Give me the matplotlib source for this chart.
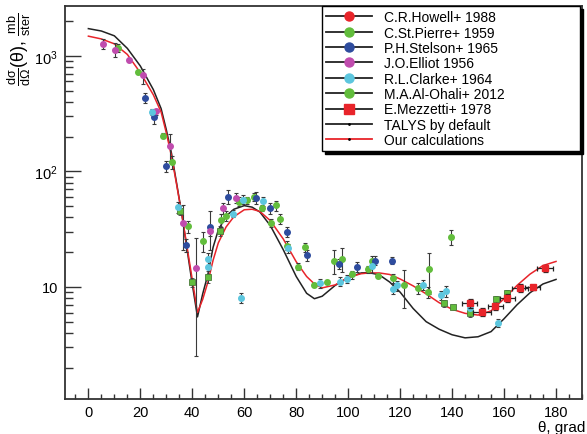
import matplotlib
matplotlib.use("Agg")
import matplotlib.pyplot as plt
from matplotlib.lines import Line2D
from matplotlib.ticker import FixedLocator, FixedFormatter, MultipleLocator, LogLocator, NullFormatter

plt.rcParams['font.family'] = ['Liberation Sans', 'DejaVu Sans']
plt.rcParams['mathtext.fontset'] = 'custom'
plt.rcParams['mathtext.rm'] = 'Liberation Sans'
plt.rcParams['mathtext.it'] = 'Liberation Sans'
plt.rcParams['mathtext.bf'] = 'Liberation Sans:bold'

# ---------------- data ----------------
calc_theta = [0, 5, 10, 15, 20, 25, 28, 30, 32, 34, 36, 38, 40, 42, 44, 46, 48, 50, 53, 56,
              60, 63, 66, 70, 75, 80, 84, 87, 90, 95, 100, 105, 108, 112, 116, 120, 125, 130,
              135, 140, 145, 150, 155, 160, 165, 170, 175, 180]
talys = [1720, 1640, 1490, 1160, 816, 510, 349, 229, 143, 78, 42, 21, 10.5, 5.5, 8.7, 12.8, 22, 31,
         41, 47, 50.5, 49, 44.5, 34, 21, 12.3, 8.8, 7.9, 8.3, 10.3, 12.0, 13.2, 13.3, 12.7, 11.0,
         9.0, 6.5, 5.0, 4.3, 3.85, 3.62, 3.7, 4.1, 5.3, 7.0, 8.9, 10.6, 11.6]
ours = [1480, 1400, 1270, 1028, 714, 460, 326, 215, 135, 76, 42, 22, 11.5, 6.0, 7.8, 11, 17, 24,
        33, 40.5, 46.5, 47, 45, 37.5, 26, 16.5, 12.3, 10.6, 9.8, 10.4, 12.1, 13.0, 13.2, 13.2,
        12.8, 11.7, 10.2, 8.7, 7.3, 6.4, 5.9, 5.7, 6.2, 7.9, 10.3, 12.9, 15.3, 16.6]

howell_x = [146.7, 151.5, 156.7, 161.3, 166.2, 171.0, 175.8]
howell_y = [7.2, 6.1, 6.8, 8.0, 9.8, 9.9, 14.5]
howell_yerr = [0.6, 0.5, 0.5, 0.6, 0.7, 0.5, 1.0]
howell_xerr = [3, 3.3, 3, 3, 3, 3, 3]

stpierre_x = [11.3, 19, 28.7, 32.2, 38.2, 44, 51, 53.1, 57.8, 61, 63.6, 66.8, 70.4, 72.2, 73.6,
              76.4, 80.6, 83.2, 86.7, 91.8, 94.7, 97.6, 101.4, 107.6, 109.1, 111.3, 117.4, 121.3,
              126.7, 131.3, 130.9, 139.5]
stpierre_y = [1173, 731, 204, 120, 33.5, 24.9, 38, 41, 54.8, 56, 60.5, 48, 35.8, 50.7, 38.8,
              22.8, 15, 22.1, 10.4, 11.0, 16.9, 17.5, 12.8, 14.2, 16.6, 12.5, 11.9, 10.3,
              9.75, 14.2, 9.0, 26.9]
stpierre_err = [100, 30, 10, 15, 4, 5, 5, 4, 5, 4, 5, 3, 3, 5, 4, 2, 1, 2, 0.5, 0.5, 4, 4, 1, 1,
                2, 0.5, 1, 3.8, 1, 5.5, 1, 4]

stelson_x = [21.7, 25.1, 29.9, 37.4, 46.7, 53.6, 64.4, 70, 76.4, 84.1, 96.3, 103.3, 110.5, 116.8]
stelson_y = [433, 294, 111, 23, 33, 60.5, 59, 48, 30, 18.9, 15.8, 15, 16.9, 16.9]
stelson_err = [40, 35, 12, 3, 12, 8, 7, 5, 3, 2, 1.5, 1.5, 1.5, 1.2]

elliot_x = [5.5, 10.4, 15.5, 21, 25.9, 31.4, 36.4, 41.5, 46.7, 51.8, 56.9]
elliot_y = [1270, 1134, 923, 676, 330, 167, 36, 14.5, 30.4, 48, 59]
elliot_err = [130, 150, 30, 100, 20, 45, 15, 12, 3, 5, 6]

clarke_x = [24.5, 34.4, 46, 46, 55.6, 59.5, 58.8, 67.4, 77, 89, 96.9, 99.5, 109.1, 117.2, 118.7,
            128.7, 135.6, 137.7, 146.7, 157.6]
clarke_y = [325, 49, 17.5, 14.8, 43, 57, 8.0, 55, 21.6, 10.8, 11.1, 11.7, 15.2, 9.6, 10.3,
            10.4, 8.5, 9.2, 6.5, 4.9]
clarke_err = [20, 5, 2, 2, 3, 5, 0.8, 5, 2, 1, 1, 1, 2, 1, 1, 1, 0.8, 1, 0.5, 0.4]

alohali_x = [35.4, 39.9, 46, 50.8, 136.7, 140.5, 146.7, 156.9, 161]
alohali_y = [45.8, 11, 12.2, 30.7, 7.2, 6.7, 6.0, 7.8, 8.9]
alohali_err = [4, 1, 1.5, 3, 0.5, 0.3, 0.5, 0.5, 0.5]

labels = ['C.R.Howell+ 1988', 'C.St.Pierre+ 1959', 'P.H.Stelson+ 1965', 'J.O.Elliot 1956',
          'R.L.Clarke+ 1964', 'M.A.Al-Ohali+ 2012', 'E.Mezzetti+ 1978', 'TALYS by default',
          'Our calculations']

C_RED = '#e8242a'
C_GREEN = '#62bd3c'
C_BLUE = '#2e4c9e'
C_MAG = '#c04cae'
C_CYAN = '#5cc6de'
C_BLACK = '#222222'

# ---------------- figure ----------------
fig = plt.figure(figsize=(5.87, 4.35), dpi=100)
ax = fig.add_axes([65/587, 1-400/435, 517/587, 393/435])
ax.set_yscale('log')
ax.set_xlim(-9, 190)
ax.set_ylim(1.07, 2700)

ax.plot(calc_theta, talys, color=C_BLACK, lw=1.1, zorder=2)
ax.plot(calc_theta, ours, color=C_RED, lw=1.1, zorder=2)

eb = dict(ecolor='#3a3a3a', elinewidth=0.8, capsize=1.6, capthick=0.8, ls='none', zorder=3)
ms = 4.0
ax.errorbar(stpierre_x, stpierre_y, yerr=stpierre_err, marker='o', ms=ms, mfc=C_GREEN, mec=C_GREEN, **eb)
ax.errorbar(alohali_x, alohali_y, yerr=alohali_err, marker='s', ms=3.8, mfc=C_GREEN, mec='#4a7a3a', mew=0.6, **eb)
ax.errorbar(stelson_x, stelson_y, yerr=stelson_err, marker='o', ms=ms, mfc=C_BLUE, mec=C_BLUE, **eb)
ax.errorbar(elliot_x, elliot_y, yerr=elliot_err, marker='o', ms=ms, mfc=C_MAG, mec=C_MAG, **eb)
ax.errorbar(clarke_x, clarke_y, yerr=clarke_err, marker='o', ms=ms, mfc=C_CYAN, mec=C_CYAN, **eb)
ax.errorbar(howell_x, howell_y, yerr=howell_yerr, xerr=howell_xerr, marker='s', ms=5, mfc=C_RED, mec=C_RED,
            ecolor='#222222', elinewidth=0.9, capsize=1.8, capthick=0.9, ls='none', zorder=4)

# ticks
ax.xaxis.set_minor_locator(MultipleLocator(5))
ax.set_xticks([0, 20, 40, 60, 80, 100, 120, 140, 160, 180])
ax.set_xticklabels(['0', '20', '40', '60', '80', '100', '120', '140', '160', '180'])
ax.yaxis.set_major_locator(FixedLocator([10, 100, 1000]))
ax.yaxis.set_major_formatter(FixedFormatter(['10', r'$\mathdefault{10^{2}}$', r'$\mathdefault{10^{3}}$']))
ax.yaxis.set_minor_locator(LogLocator(base=10, subs=(2, 3, 4, 5, 6, 7, 8, 9), numticks=20))
ax.yaxis.set_minor_formatter(NullFormatter())
ax.tick_params(axis='x', which='major', direction='in', length=8, width=1.0, color='#333333',
               labelsize=10.5, pad=4, top=False)
ax.tick_params(axis='x', which='minor', direction='in', length=3.8, width=1.0, color='#333333', top=False)
ax.tick_params(axis='y', which='major', direction='in', length=11.5, width=1.0, color='#333333',
               labelsize=10.5, pad=5, right=False)
ax.tick_params(axis='y', which='minor', direction='in', length=5.8, width=1.0, color='#333333', right=False)
for s in ax.spines.values():
    s.set_linewidth(1.3)
    s.set_color('#333333')

# labels
fig.text(19/587, 1-12/435, r'$\frac{d\sigma}{d\Omega}(\theta)$, $\frac{mb}{ster}$', fontsize=13,
         rotation=90, ha='center', va='top')
fig.text(585/587, 1-428/435, 'θ, grad', fontsize=11, ha='right', va='center')

# legend
def h(color, marker, ms_=6.5):
    return Line2D([], [], color='#222222', lw=1.3, marker=marker, ms=ms_, mfc=color, mec=color)

handles = [h(C_RED, 'o'), h(C_GREEN, 'o'), h(C_BLUE, 'o'), h(C_MAG, 'o'), h(C_CYAN, 'o'),
           h(C_GREEN, 'o'), h(C_RED, 's'),
           Line2D([], [], color=C_BLACK, lw=1.3, marker='.', ms=2, mfc='black', mec='black'),
           Line2D([], [], color=C_RED, lw=1.3, marker='.', ms=2, mfc='black', mec='black')]
leg = ax.legend(handles, labels, loc='upper left', bbox_to_anchor=(0.497, 1.0, 0.499, 0.0),
                mode='expand', fontsize=10, frameon=True, fancybox=False, handlelength=3.3,
                handletextpad=0.85, labelspacing=0.1, borderpad=0.3, borderaxespad=0.0,
                shadow={'color': 'black', 'alpha': 1.0, 'ox': 2, 'oy': -2})
leg.get_frame().set_edgecolor('black')
leg.get_frame().set_linewidth(1.0)
leg.get_frame().set_facecolor('white')
leg.set_zorder(10)

fig.savefig('out.png', dpi=100)
